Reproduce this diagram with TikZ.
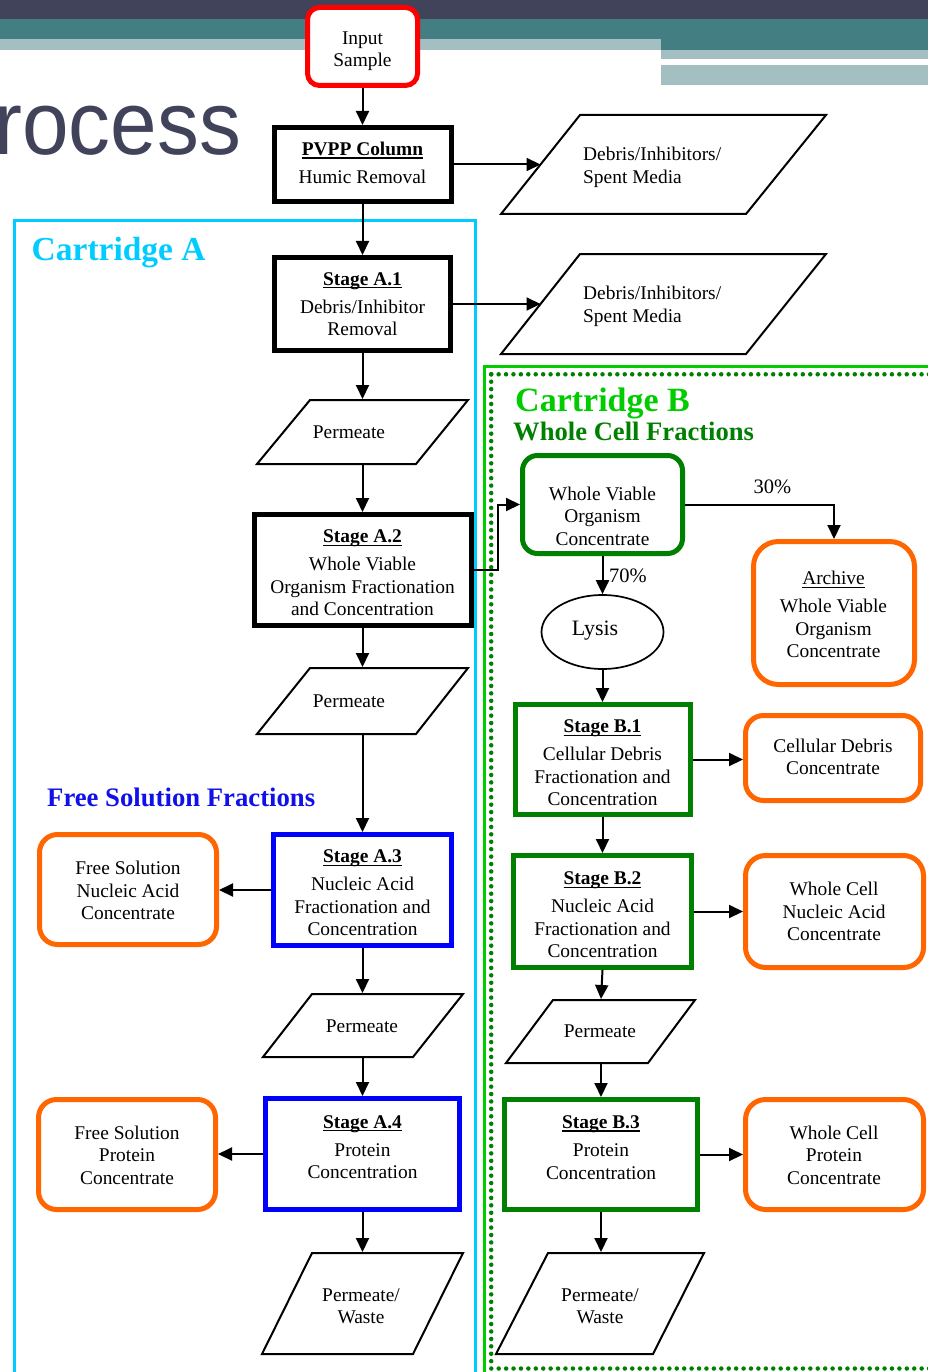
\documentclass[tikz,border=0pt]{standalone}
\usepackage{fontspec}
\setmainfont{Liberation Serif}
\newfontfamily\titlesans{Liberation Sans}
\usetikzlibrary{arrows.meta,shapes.geometric,calc}
\definecolor{hdark}{RGB}{65,67,90}
\definecolor{hteal}{RGB}{67,126,130}
\definecolor{hlight}{RGB}{163,191,193}
\definecolor{cartA}{RGB}{0,204,255}
\definecolor{cartB}{RGB}{0,204,0}
\definecolor{dgreen}{RGB}{0,128,0}
\definecolor{oran}{RGB}{255,102,0}
\definecolor{fsblue}{RGB}{16,16,235}
\definecolor{stblue}{RGB}{0,0,255}
\newcommand\myul[1]{\setbox0=\hbox{#1}\rlap{\rule[-3.2pt]{\wd0}{1.3pt}}\box0}
\begin{document}
\begin{tikzpicture}[x=1pt,y=-1pt,
  box/.style={draw, line width=5pt, fill=white, inner sep=0pt, rectangle},
  blackbox/.style={box, draw=black},
  bluebox/.style={box, draw=stblue},
  greenbox/.style={box, draw=dgreen},
  orbox/.style={box, draw=oran, rounded corners=#1},
  orbox/.default=18pt,
  txt/.style={font=\fontsize{19.4}{22.5}\selectfont, align=center, inner sep=0pt},
  title/.style={anchor=base west, inner sep=0pt},
  flow/.style={draw=black, line width=2pt, -{Triangle[length=14pt,width=13pt]}},
  para/.style={draw=black, line width=2pt, fill=white, line join=miter},
]
\useasboundingbox (0,0) rectangle (928,1372);
\fill[white] (0,0) rectangle (928,1372);
% header
\fill[hdark] (0,0) rectangle (928,19);
\fill[hteal] (0,19) rectangle (928,39);
\fill[hteal] (661,39) rectangle (928,50);
\fill[hlight] (0,39) rectangle (661,50);
\fill[hlight] (661,50) rectangle (928,59);
\fill[hlight] (661,65) rectangle (928,85);
\node[anchor=base west, inner sep=0pt, text=hdark, font=\titlesans\fontsize{90}{90}\selectfont, xscale=0.93] (ttl) at (-5.6,155) {rocess};

% cartridge frames
\draw[cartA, line width=3.5pt] (14.3,1380) -- (14.3,220.5) -- (475.5,220.5) -- (475.5,1380);
\draw[cartB, line width=3.3pt] (484.3,1380) -- (484.3,366.5) -- (935,366.5);
\draw[dgreen, line width=4.5pt, line cap=round, dash pattern=on 0pt off 7.42pt] (491.2,374.3) -- (935,374.3);
\draw[dgreen, line width=4.5pt, line cap=round, dash pattern=on 0pt off 7.42pt] (491.2,374.3) -- (491.2,1368.5) -- (935,1368.5);

% titles
\node[title, text=cartA, font=\bfseries\fontsize{33.5}{36}\selectfont] (tA) at (31.5,260.7) {Cartridge A};
\node[title, text=cartB, font=\bfseries\fontsize{34}{36}\selectfont] (tB) at (515,411.7) {Cartridge B};
\node[title, text=dgreen, font=\bfseries\fontsize{26.6}{30}\selectfont] (tWC) at (513,440.7) {Whole Cell Fractions};
\node[title, text=fsblue, font=\bfseries\fontsize{26.7}{30}\selectfont] (tFS) at (47,806) {Free Solution Fractions};

% boxes
\node[box, draw=red, rounded corners=12pt, minimum width=110pt, minimum height=78pt] (in) at (362.5,46.5) {};
\node[blackbox, minimum width=177pt, minimum height=74pt] (pvpp) at (362.5,164.5) {};
\node[blackbox, minimum width=176pt, minimum height=93pt] (a1) at (362.5,304) {};
\node[blackbox, minimum width=217pt, minimum height=111pt] (a2) at (362.5,570) {};
\node[bluebox, minimum width=178pt, minimum height=111pt] (a3) at (362.5,890) {};
\node[bluebox, minimum width=194pt, minimum height=111pt] (a4) at (362.5,1154) {};
\node[orbox, minimum width=177pt, minimum height=110pt] (fsna) at (128,889.5) {};
\node[orbox, minimum width=177pt, minimum height=110pt] (fsp) at (127,1154.5) {};
\node[box, draw=dgreen, rounded corners=15pt, minimum width=160pt, minimum height=98pt] (wvo) at (602.5,504.5) {};
\node[orbox=25pt, minimum width=161pt, minimum height=143pt] (arch) at (834,613) {};
\node[greenbox, minimum width=175pt, minimum height=110pt] (b1) at (602.5,759.5) {};
\node[orbox, minimum width=175pt, minimum height=85pt] (cd) at (833,758) {};
\node[greenbox, minimum width=178pt, minimum height=112pt] (b2) at (602.5,911.5) {};
\node[orbox=20pt, minimum width=178pt, minimum height=112pt] (wcna) at (834.5,911.5) {};
\node[greenbox, minimum width=193pt, minimum height=110pt] (b3) at (601,1154.5) {};
\node[orbox=20pt, minimum width=178pt, minimum height=110pt] (wcp) at (834.5,1154.5) {};
\node[ellipse, draw, line width=1.7pt, fill=white, minimum width=122pt, minimum height=74pt, inner sep=0pt] (lys) at (602.5,632) {};

% parallelograms
\draw[para] (580,115) -- (826,115) -- (746,214) -- (501,214) -- cycle;
\draw[para] (580,254) -- (826,254) -- (746,354) -- (501,354) -- cycle;
\draw[para] (310,400) -- (468,400) -- (416,464) -- (257,464) -- cycle;
\draw[para] (310,668) -- (468,668) -- (416,734) -- (257,734) -- cycle;
\draw[para] (312,994) -- (463,994) -- (413,1057) -- (263,1057) -- cycle;
\draw[para] (312,1253) -- (463,1253) -- (413,1354) -- (262,1354) -- cycle;
\draw[para] (553,1000) -- (695,1000) -- (648,1063) -- (506,1063) -- cycle;
\draw[para] (548,1253) -- (704,1253) -- (653,1354) -- (496,1354) -- cycle;
\coordinate (d1w) at (540.5,164.5);
\coordinate (d2w) at (540.5,304);
\coordinate (p1n) at (362.5,399); \coordinate (p1s) at (362.5,464);
\coordinate (p2n) at (362.5,667); \coordinate (p2s) at (362.5,734);
\coordinate (p3n) at (362.5,993); \coordinate (p3s) at (362.5,1057);
\coordinate (pwan) at (362.5,1252);
\coordinate (pbn) at (601,999); \coordinate (pbs) at (601,1063);
\coordinate (pwbn) at (601,1252);

% texts
\node[txt] (inT) at (362.5,51) {Input\\Sample};
\node[txt] (pvT) at (362.5,163) {\myul{\textbf{PVPP Column}}\\[6pt]Humic Removal};
\node[txt] (a1T) at (362.5,304) {\myul{\textbf{Stage A.1}}\\[5.5pt]Debris/Inhibitor\\Removal};
\node[txt] (a2T) at (362.5,573) {\myul{\textbf{Stage A.2}}\\[5.5pt]Whole Viable\\Organism Fractionation\\and Concentration};
\node[txt] (a3T) at (362.5,893) {\myul{\textbf{Stage A.3}}\\[5.5pt]Nucleic Acid\\Fractionation and\\Concentration};
\node[txt] (a4T) at (362.5,1147) {\myul{\textbf{Stage A.4}}\\[5.5pt]Protein\\Concentration};
\node[txt] (fsnaT) at (128,890.5) {Free Solution\\Nucleic Acid\\Concentrate};
\node[txt] (fspT) at (127,1155) {Free Solution\\Protein\\Concentrate};
\node[txt] (wvoT) at (602.5,516) {Whole Viable\\Organism\\Concentrate};
\node[txt] (archT) at (833.5,614.5) {\myul{Archive}\\[5.5pt]Whole Viable\\Organism\\Concentrate};
\node[txt] (b1T) at (602.5,763) {\myul{\textbf{Stage B.1}}\\[5.5pt]Cellular Debris\\Fractionation and\\Concentration};
\node[txt] (cdT) at (833,757) {Cellular Debris\\Concentrate};
\node[txt] (b2T) at (602.5,915) {\myul{\textbf{Stage B.2}}\\[5.5pt]Nucleic Acid\\Fractionation and\\Concentration};
\node[txt] (wcnaT) at (834,911.5) {Whole Cell\\Nucleic Acid\\Concentrate};
\node[txt] (b3T) at (601,1147.5) {\myul{\textbf{Stage B.3}}\\[5.5pt]Protein\\Concentration};
\node[txt] (wcpT) at (834,1155) {Whole Cell\\Protein\\Concentrate};
\node[txt, align=left, anchor=west] (d1T) at (583,167.5) {Debris/Inhibitors/\\Spent Media};
\node[txt, align=left, anchor=west] (d2T) at (583,306.5) {Debris/Inhibitors/\\Spent Media};
\node[txt, anchor=base] (p1T) at (349,438) {Permeate};
\node[txt, anchor=base] (p2T) at (349,707) {Permeate};
\node[txt, anchor=base] (p3T) at (362,1032) {Permeate};
\node[txt, anchor=base] (pbT) at (600,1037) {Permeate};
\node[txt] (pwaT) at (361,1306) {Permeate/\\Waste};
\node[txt] (pwbT) at (600,1306) {Permeate/\\Waste};
\node[txt, anchor=base, font=\fontsize{22}{24}\selectfont] (lysT) at (595,635) {Lysis};
\node[txt, anchor=base, font=\fontsize{20.5}{24}\selectfont] (l30) at (772.5,493) {30\%};
\node[txt, anchor=base west, font=\fontsize{20.5}{24}\selectfont] (l70) at (609,582) {70\%};

% connectors
\draw[flow] (in.south) -- (pvpp.north);
\draw[flow] (pvpp.east) -- (d1w);
\draw[flow] (pvpp.south) -- (a1.north);
\draw[flow] (a1.east) -- (d2w);
\draw[flow] (a1.south) -- (p1n);
\draw[flow] (p1s) -- (a2.north);
\draw[flow] (a2.east) -- ++(24.5,0) |- (wvo.west);
\draw[flow] (a2.south) -- (p2n);
\draw[flow] (p2s) -- (a3.north);
\draw[flow] (a3.west) -- (a3.west -| fsna.east);
\draw[flow] (a3.south) -- (p3n);
\draw[flow] (p3s) -- (a4.north);
\draw[flow] (a4.west) -- (a4.west -| fsp.east);
\draw[flow] (a4.south) -- (pwan);
\draw[flow] (wvo.east) -| (arch.north);
\draw[flow] (wvo.south) -- (lys.north);
\draw[flow] (lys.south) -- (b1.north);
\draw[flow] (b1.east) -- (b1.east -| cd.west);
\draw[flow] (b1.south) -- (b2.north);
\draw[flow] (b2.east) -- (wcna.west);
\draw[flow] (b2.south) -- (pbn);
\draw[flow] (pbs) -- (b3.north);
\draw[flow] (b3.east) -- (wcp.west);
\draw[flow] (b3.south) -- (pwbn);
\end{tikzpicture}
\end{document}
